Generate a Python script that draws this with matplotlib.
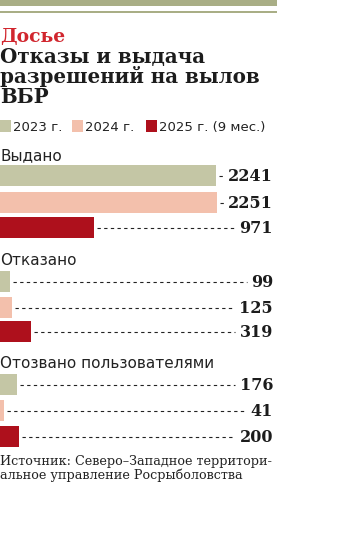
import matplotlib
matplotlib.use("Agg")
import matplotlib.pyplot as plt

# data
groups = ["Выдано", "Отказано", "Отозвано пользователями"]
years = ["2023 г.", "2024 г.", "2025 г. (9 мес.)"]
v2023 = [2241, 99, 176]
v2024 = [2251, 125, 41]
v2025 = [971, 319, 200]
colors = ["#c4c6a5", "#f3c0ac", "#ae101c"]
title_lines = ["Отказы и выдача", "разрешений на вылов", "ВБР"]

W, H = 358, 540
fig = plt.figure(figsize=(W / 100, H / 100), dpi=100)
ax = fig.add_axes([0, 0, 1, 1])
k = 217 / 2251  # px per unit
ax.set_xlim(0, W / k)
ax.set_ylim(H, 0)
ax.axis("off")

def px(x):
    return x / k

# top rules
ax.add_patch(plt.Rectangle((0, 0), px(277), 6, color="#a9ae86", lw=0))
ax.add_patch(plt.Rectangle((0, 10.5), px(277), 2, color="#a9ae86", lw=0))

ax.text(0, 42, "Досье", color="#d1262e", fontsize=13.5, fontweight="bold",
        family="DejaVu Serif", va="baseline")
for i, t in enumerate(title_lines):
    ax.text(0, 63 + 20 * i, t, color="#1c1c1c", fontsize=14.3,
            fontweight="bold", family="DejaVu Serif", va="baseline")

# legend
lx = [0, 72, 146]
for x0, lab, c in zip(lx, years, colors):
    ax.add_patch(plt.Rectangle((px(x0), 119.5), px(11), 12, color=c, lw=0))
    ax.text(px(x0 + 13), 131, lab, fontsize=9.5, family="DejaVu Sans",
            color="#222222", va="baseline")

label_y = [160, 265, 368]
bar_top = [[165, 192, 217], [271, 297, 321], [374, 400, 426]]
vals = list(zip(v2023, v2024, v2025))
for gi, g in enumerate(groups):
    ax.text(0, label_y[gi], g, fontsize=11, family="DejaVu Sans",
            color="#222222", va="baseline")
    for j in range(3):
        v = vals[gi][j]
        yc = bar_top[gi][j] + 10.5
        ax.barh(yc, v, height=21, left=0, color=colors[j], lw=0)
        s = str(v)
        lab_left = 272 - 11.2 * len(s)
        ax.plot([v + px(3), px(lab_left - 3)], [yc, yc], color="#222222",
                lw=0.8, dashes=(3, 3))
        ax.text(px(273), yc + 1, s, fontsize=11.5, fontweight="bold",
                family="DejaVu Serif", ha="right", va="center", color="#1c1c1c")

ax.text(0, 465, "Источник: Северо–Западное территори-", fontsize=9.2,
        family="DejaVu Serif", color="#222222", va="baseline")
ax.text(0, 479, "альное управление Росрыболовства", fontsize=9.2,
        family="DejaVu Serif", color="#222222", va="baseline")

fig.savefig("out.png", dpi=100)
